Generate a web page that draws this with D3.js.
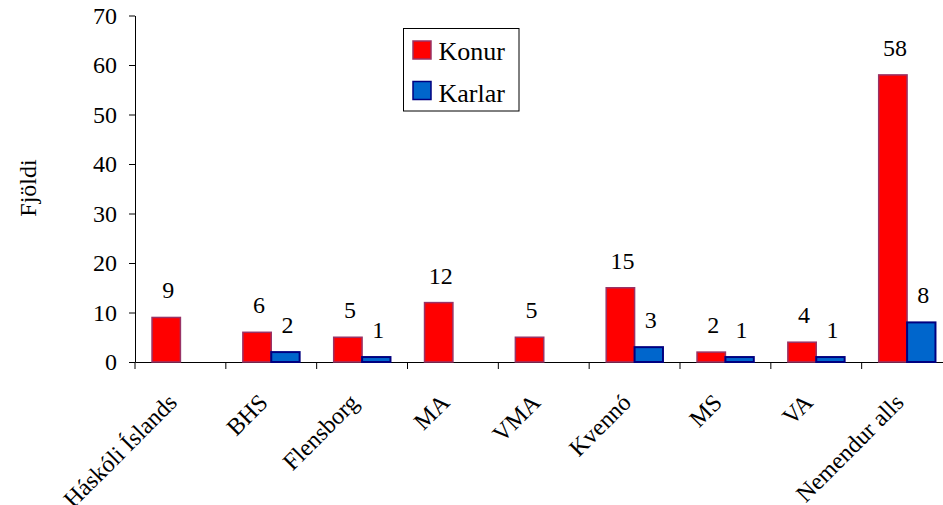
<!DOCTYPE html>
<html>
<head>
<meta charset="utf-8">
<script src="https://cdn.jsdelivr.net/npm/d3@7"></script>
<style>
  body { margin: 0; background: #fff; }
  svg { display: block; overflow: hidden; }
  text { font-family: "Liberation Serif", "Times New Roman", serif; }
</style>
</head>
<body>
<div id="chart"></div>
<script>
// data
const categories = ["Háskóli Íslands", "BHS", "Flensborg", "MA", "VMA", "Kvennó", "MS", "VA", "Nemendur alls"];
const konur = [9, 6, 5, 12, 5, 15, 2, 4, 58];
const karlar = [null, 2, 1, null, null, 3, 1, 1, 8];
const seriesNames = ["Konur", "Karlar"];
const yTicks = [0, 10, 20, 30, 40, 50, 60, 70];

const width = 943, height = 505;
const margin = { top: 15.5, left: 135, bottom: 143 };
const plotRight = 952.5;
const fontSize = "24px";

const colors = { Konur: "#ff0000", Karlar: "#0066cc" };
const strokes = { Konur: "#993366", Karlar: "#000080" };

const svg = d3.select("#chart").append("svg")
  .attr("width", width)
  .attr("height", height);

const x0 = d3.scaleBand()
  .domain(categories)
  .range([margin.left, plotRight])
  .padding(0);

const x1 = d3.scaleBand()
  .domain(seriesNames)
  .range([0, x0.bandwidth()])
  .paddingInner(0)
  .paddingOuter(0.6);

const y = d3.scaleLinear()
  .domain([0, 70])
  .range([height - margin.bottom, margin.top]);

const rows = categories.map((c, i) => ({
  cat: c,
  vals: [
    { name: "Konur", value: konur[i] },
    { name: "Karlar", value: karlar[i] }
  ].filter(d => d.value !== null)
}));

// y axis
const yAxis = svg.append("g")
  .attr("transform", "translate(" + margin.left + ",0)")
  .call(d3.axisLeft(y).tickValues(yTicks).tickSize(6).tickPadding(12).tickSizeOuter(0));
yAxis.selectAll("text").style("font-size", fontSize).attr("fill", "#000");
yAxis.selectAll("line, path").attr("stroke", "#000");

// x axis
const xAxis = svg.append("g")
  .attr("transform", "translate(0," + y(0) + ")")
  .call(d3.axisBottom(x0).tickSize(0).tickSizeOuter(0));
xAxis.select("path").attr("stroke", "#000");
xAxis.selectAll("text")
  .style("font-size", fontSize)
  .attr("fill", "#000")
  .attr("text-anchor", "end")
  .attr("dy", null)
  .attr("y", 0)
  .attr("transform", "translate(-2,42) rotate(-45)");

// category separator ticks
svg.append("g")
  .selectAll("line")
  .data(categories)
  .enter().append("line")
  .attr("x1", d => x0(d))
  .attr("x2", d => x0(d))
  .attr("y1", y(0))
  .attr("y2", y(0) + 7)
  .attr("stroke", "#000");

// bars
const groups = svg.selectAll(".grp")
  .data(rows)
  .enter().append("g")
  .attr("class", "grp")
  .attr("transform", d => "translate(" + x0(d.cat) + ",0)");

groups.selectAll("rect")
  .data(d => d.vals)
  .enter().append("rect")
  .attr("x", d => x1(d.name))
  .attr("y", d => y(d.value))
  .attr("width", x1.bandwidth())
  .attr("height", d => y(0) - y(d.value))
  .attr("fill", d => colors[d.name])
  .attr("stroke", d => strokes[d.name])
  .attr("stroke-width", d => d.name === "Konur" ? 1.5 : 2);

groups.selectAll(".lbl")
  .data(d => d.vals)
  .enter().append("text")
  .attr("class", "lbl")
  .attr("x", d => x1(d.name) + x1.bandwidth() / 2 + 2)
  .attr("y", d => y(d.value) - 19)
  .attr("text-anchor", "middle")
  .style("font-size", fontSize)
  .text(d => d.value);

// y title
svg.append("text")
  .attr("transform", "translate(36,188) rotate(-90)")
  .attr("text-anchor", "middle")
  .style("font-size", fontSize)
  .text("Fjöldi");

// legend
const legend = svg.append("g").attr("transform", "translate(403.5,28.5)");
legend.append("rect")
  .attr("width", 115.5)
  .attr("height", 82.5)
  .attr("fill", "#fff")
  .attr("stroke", "#000");
seriesNames.forEach((s, i) => {
  legend.append("rect")
    .attr("x", 9.5)
    .attr("y", 12.5 + i * 40.5)
    .attr("width", 18)
    .attr("height", 18)
    .attr("fill", colors[s])
    .attr("stroke", strokes[s])
    .attr("stroke-width", 1.5);
  legend.append("text")
    .attr("x", 35)
    .attr("y", 31.5 + i * 41.5)
    .style("font-size", "26px")
    .text(s);
});
</script>
</body>
</html>
